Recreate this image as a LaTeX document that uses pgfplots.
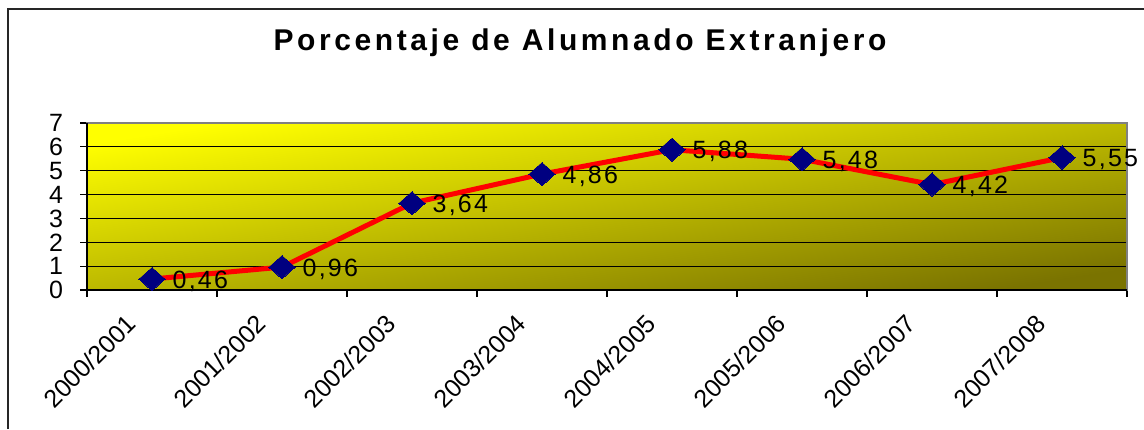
\documentclass[border=0pt]{standalone}
\usepackage{fontspec}
\setmainfont{Liberation Sans}
\newfontfamily\titlefont[LetterSpace=12]{Liberation Sans}
\newfontfamily\labelfont[LetterSpace=9]{Liberation Sans}
\usepackage{pgfplots}
\pgfplotsset{compat=1.18}
\definecolor{navymark}{RGB}{0,0,128}
\definecolor{olivedark}{RGB}{122,115,0}
\definecolor{olivemid}{RGB}{212,210,0}
\definecolor{plotborder}{RGB}{128,128,128}
\begin{document}
\begin{tikzpicture}
% 1 px of the reference = 0.5pt; origin at top left
\useasboundingbox (0,0) rectangle (572pt,-214.5pt);
\draw[line width=1pt, black!85] (4.2pt,-214.5pt) -- (4.2pt,-4.6pt) -- (572pt,-4.6pt);
\node[font=\titlefont\bfseries\fontsize{15pt}{17pt}\selectfont] at (290pt,-21.5pt)
  {Porcentaje de Alumnado Extranjero};
\begin{axis}[
    at={(43.5pt,-145pt)}, anchor=south west,
    scale only axis,
    width=520pt, height=83.5pt,
    xmin=0, xmax=8,
    ymin=0, ymax=7,
    xtick={0,...,8},
    x tick label as interval,
    xticklabels={2000/2001,2001/2002,2002/2003,2003/2004,2004/2005,2005/2006,2006/2007,2007/2008},
    xticklabel style={xshift=-13.5pt, yshift=-3pt, rotate=45, anchor=north east, font=\fontsize{12.5pt}{13pt}\selectfont},
    ytick={0,...,7},
    yticklabel style={font=\fontsize{12.5pt}{12.5pt}\selectfont, xshift=-5pt},
    tick align=outside,
    major tick length=3.5pt,
    tick style={black, line width=0.6pt},
    xtick pos=bottom, ytick pos=left,
    ymajorgrids,
    grid style={black, line width=0.5pt},
    axis line style={plotborder, line width=1.2pt},
    axis background/.style={top color=yellow, middle color=olivemid, bottom color=olivedark, shading angle=9},
    /pgf/number format/assume math mode=true,
    nodes near coords={\pgfmathprintnumber[use comma,fixed,precision=2,fixed zerofill]{\pgfplotspointmeta}},
    every node near coord/.append style={anchor=west, xshift=7pt, yshift=-1pt, text=black, font=\labelfont\fontsize{12.5pt}{12.5pt}\selectfont},
    clip=false,
]
\addplot[red, line width=2.5pt, mark=diamond*, mark size=5.8pt,
    mark options={fill=navymark, draw=navymark, line width=0pt, xscale=1.5}]
coordinates {
(0.5,0.46)
(1.5,0.96)
(2.5,3.64)
(3.5,4.86)
(4.5,5.88)
(5.5,5.48)
(6.5,4.42)
(7.5,5.55)
};
\draw[black, line width=0.8pt] (rel axis cs:0,1) -- (rel axis cs:0,0) -- (rel axis cs:1,0);
\end{axis}
\end{tikzpicture}
\end{document}
